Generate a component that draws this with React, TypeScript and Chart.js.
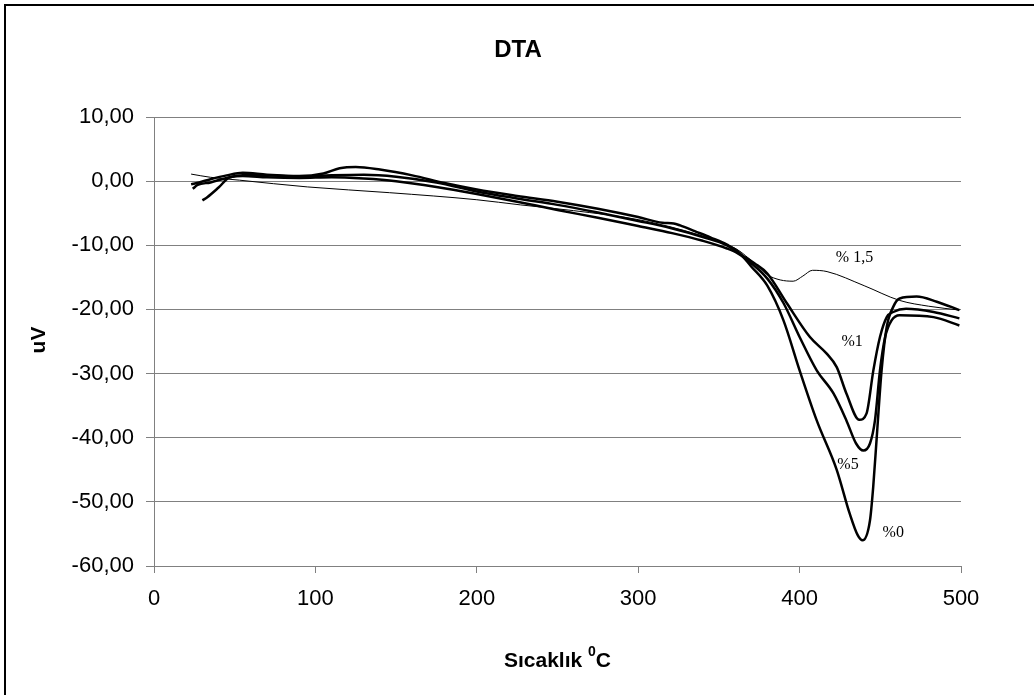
import React, { useEffect, useRef } from "react";
import { Chart, registerables } from "chart.js";

Chart.register(...registerables);

// ---- Data ----
const seriesNames = ["%0", "%1", "%5", "% 1,5"];

const t0 = [23, 28, 35, 45, 55, 70, 90, 105, 115, 125, 140, 160, 180, 200, 225, 250, 275, 300, 315, 322, 326, 335, 345, 355, 362, 370, 380, 390, 400, 410.6, 423, 431, 436, 439, 443.6, 445.6, 447.8, 450.8, 454, 458, 462, 472.5, 485, 499];
const v0 = [-0.5, -0.2, 0.3, 0.9, 1.3, 1.0, 0.8, 1.2, 2.0, 2.2, 1.8, 0.9, -0.3, -1.3, -2.3, -3.2, -4.3, -5.6, -6.5, -6.6, -6.9, -7.8, -8.8, -9.9, -11.0, -13.3, -16.3, -21.7, -29.5, -37.3, -45, -51.8, -55.2, -56, -52.9, -47.7, -39.9, -29.5, -22.7, -19.6, -18.3, -18.0, -18.8, -20.1];

const t1 = [24, 27, 35, 45, 55, 70, 90, 110, 130, 150, 175, 200, 225, 250, 275, 300, 320, 340, 355, 362, 372, 380, 392, 406.4, 416.8, 423, 429, 437, 441.5, 445.7, 449.8, 454, 458, 466, 483, 499];
const v1 = [-1.2, -0.6, -0.2, 0.5, 0.9, 0.9, 0.7, 0.9, 1.0, 0.7, -0.2, -1.6, -2.7, -3.7, -4.9, -6.2, -7.3, -8.7, -10.0, -11.2, -12.8, -14.4, -19, -24.3, -26.9, -29, -33.1, -37.2, -36.2, -29.5, -24.3, -21.2, -20.4, -19.9, -20.4, -21.4];

const t5 = [30, 33, 40, 47, 55, 70, 90, 110, 130, 150, 175, 200, 225, 250, 275, 300, 321, 340, 355, 362, 370, 380, 390, 400, 410.6, 421, 429, 435, 439.5, 443.6, 446.7, 449.8, 453, 457, 462, 483, 499];
const v5 = [-3.0, -2.5, -1.0, 0.6, 0.8, 0.6, 0.5, 0.6, 0.4, 0.0, -0.9, -2.0, -3.2, -4.5, -5.7, -7.0, -8.1, -9.3, -10.5, -11.3, -12.8, -15.2, -19, -24.3, -29.5, -33.1, -37.3, -40.9, -42, -40.9, -37.3, -29.5, -24.3, -21.7, -20.9, -21.2, -22.5];

const t15 = [23, 35, 53, 95, 146, 200, 227, 260, 300, 338, 350, 361, 372, 380, 388, 396, 402, 408, 417, 440, 462, 480, 499];
const v15 = [1.1, 0.6, 0.15, -0.9, -1.8, -2.9, -3.7, -4.6, -6.0, -8.4, -9.5, -10.6, -12.8, -14.6, -15.4, -15.6, -14.8, -13.9, -14.1, -16.3, -18.6, -19.5, -20.1];

// curve annotations (data coordinates)
const noteText = ["% 1,5", "%1", "%5", "%0"];
const noteX = [434, 432.5, 430, 458];
const noteY = [-11.9, -25, -44.3, -54.8];

const xTicksMin = 0;
const xTicksMax = 500;
const yTicksMin = -60;
const yTicksMax = 10;

const SANS = "'Liberation Sans', Arial, sans-serif";

const pts = (xs: number[], ys: number[]) => xs.map((x, i) => ({ x, y: ys[i] }));

const decor = {
  id: "decor",
  afterDraw(chart: any) {
    const ctx = chart.ctx;
    const area = chart.chartArea;
    const xs = chart.scales.x;
    const ys = chart.scales.y;
    ctx.save();
    // border
    ctx.strokeStyle = "#000";
    ctx.lineWidth = 2;
    ctx.beginPath();
    ctx.moveTo(5, 700);
    ctx.lineTo(5, 5);
    ctx.lineTo(1034, 5);
    ctx.stroke();
    ctx.fillStyle = "#000";
    // title
    ctx.font = `bold 24px ${SANS}`;
    ctx.textAlign = "center";
    ctx.textBaseline = "middle";
    ctx.fillText("DTA", 518, 50);
    // x title
    const big = `bold 21px ${SANS}`;
    const sup = `bold 14px ${SANS}`;
    ctx.font = big;
    const cx = (area.left + area.right) / 2;
    const main = "Sıcaklık ";
    const wMain = ctx.measureText(main).width;
    ctx.font = sup;
    const wSup = ctx.measureText("0").width;
    ctx.font = big;
    const wC = ctx.measureText("C").width;
    const total = wMain + wSup + wC;
    let sx = cx - total / 2;
    ctx.textAlign = "left";
    ctx.fillText(main, sx, 661);
    sx += wMain;
    ctx.font = sup;
    ctx.fillText("0", sx, 652);
    sx += wSup;
    ctx.font = big;
    ctx.fillText("C", sx, 661);
    // y title
    ctx.save();
    ctx.translate(39, 340);
    ctx.rotate(-Math.PI / 2);
    ctx.textAlign = "center";
    ctx.fillText("uV", 0, 0);
    ctx.restore();
    // curve notes
    ctx.font = "16px 'Liberation Serif', 'Times New Roman', serif";
    ctx.textAlign = "center";
    ctx.textBaseline = "middle";
    for (let i = 0; i < noteText.length; i++) {
      ctx.fillText(noteText[i], xs.getPixelForValue(noteX[i]), ys.getPixelForValue(noteY[i]));
    }
    ctx.restore();
  },
};

export default function App() {
  const ref = useRef<HTMLCanvasElement | null>(null);
  useEffect(() => {
    if (!ref.current) return;
    const thick = { borderColor: "#000", borderWidth: 2.5, pointRadius: 0, cubicInterpolationMode: "monotone" as const, fill: false };
    const chart = new Chart(ref.current, {
      type: "line",
      data: {
        datasets: [
          { label: seriesNames[0], data: pts(t0, v0), ...thick },
          { label: seriesNames[1], data: pts(t1, v1), ...thick },
          { label: seriesNames[2], data: pts(t5, v5), ...thick },
          { label: seriesNames[3], data: pts(t15, v15), borderColor: "#000", borderWidth: 1, pointRadius: 0, cubicInterpolationMode: "monotone", fill: false },
        ],
      },
      options: {
        animation: false,
        responsive: false,
        maintainAspectRatio: false,
        layout: { padding: { top: 117, right: 73, bottom: 0, left: 0 } },
        plugins: { legend: { display: false }, title: { display: false }, tooltip: { enabled: false } },
        scales: {
          x: {
            type: "linear",
            min: xTicksMin,
            max: xTicksMax,
            afterFit: (s: any) => { s.height = 129; },
            ticks: { stepSize: 100, color: "#000", font: { size: 22, family: SANS }, padding: 13, maxRotation: 0 },
            grid: { drawOnChartArea: false, drawTicks: true, tickLength: 7, color: "#808080" },
            border: { display: true, color: "#808080", width: 1 },
          },
          y: {
            type: "linear",
            min: yTicksMin,
            max: yTicksMax,
            afterFit: (s: any) => { s.width = 154; },
            ticks: {
              stepSize: 10,
              color: "#000",
              font: { size: 22, family: SANS },
              padding: 12,
              callback: (v: any) => Number(v).toFixed(2).replace(".", ","),
            },
            grid: { color: "#808080", lineWidth: 1, tickLength: 8, drawTicks: true },
            border: { display: true, color: "#808080", width: 1 },
          },
        },
      },
      plugins: [decor],
    });
    return () => chart.destroy();
  }, []);
  return (
    <div style={{ position: "fixed", left: 0, top: 0, width: 1034, height: 695, background: "#fff" }}>
      <canvas ref={ref} width={1034} height={695} style={{ display: "block" }} />
    </div>
  );
}
